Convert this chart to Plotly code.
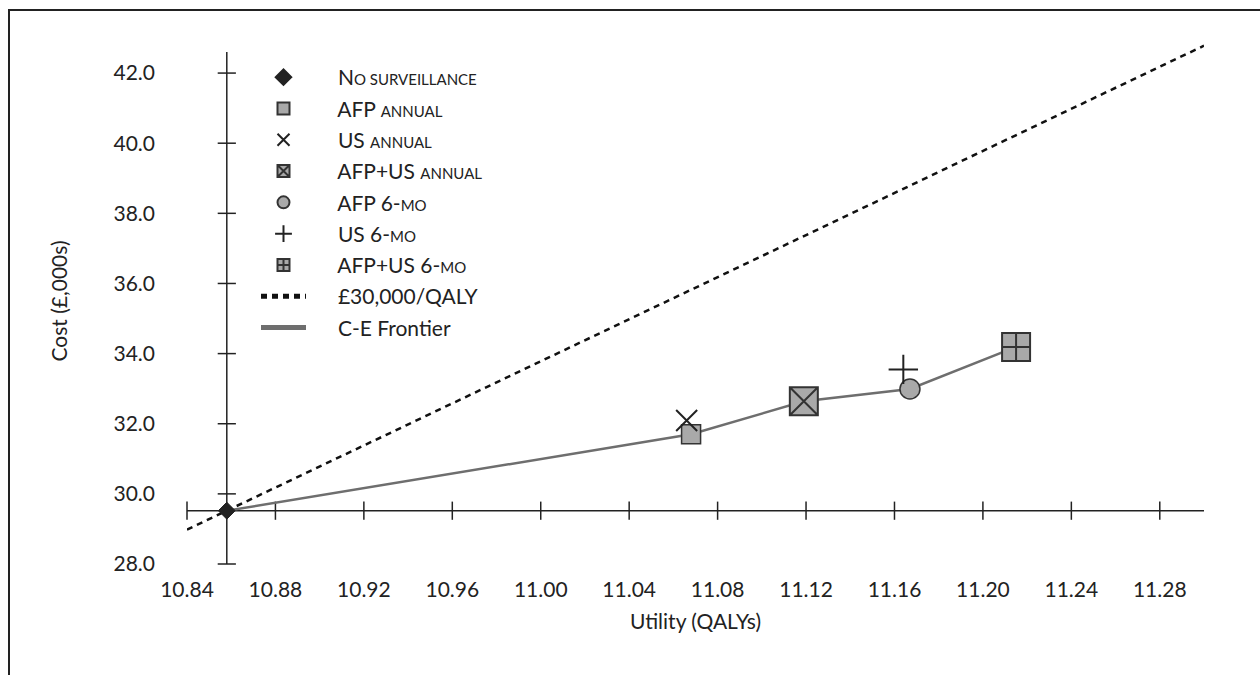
import numpy as np
import plotly.graph_objects as go

# Strategy outcomes: utility (QALYs) and cost (£,000s)
strategies = ["No surveillance", "AFP annual", "US annual", "AFP+US annual",
              "AFP 6-mo", "US 6-mo", "AFP+US 6-mo"]
SC = "<span style='font-size:15px'>{}</span>"  # small-caps style lettering
PAD = "&nbsp;" * 5
legend_labels = [
    PAD + "N" + SC.format("O SURVEILLANCE"),
    PAD + "AFP " + SC.format("ANNUAL"),
    PAD + "US " + SC.format("ANNUAL"),
    PAD + "AFP+US " + SC.format("ANNUAL"),
    PAD + "AFP 6-" + SC.format("MO"),
    PAD + "US 6-" + SC.format("MO"),
    PAD + "AFP+US 6-" + SC.format("MO"),
]
utility = [10.858, 11.068, 11.066, 11.119, 11.167, 11.164, 11.215]
cost = [29.52, 31.70, 32.09, 32.64, 32.99, 33.55, 34.19]

# Strategies on the cost-effectiveness frontier (indices into the lists above)
frontier_idx = [0, 1, 3, 4, 6]

# Willingness-to-pay threshold (£,000 per QALY)
wtp = 30.0

# Axis ticks
x_ticks = [10.84, 10.88, 10.92, 10.96, 11.00, 11.04, 11.08, 11.12, 11.16, 11.20, 11.24, 11.28]
y_ticks = [28.0, 30.0, 32.0, 34.0, 36.0, 38.0, 40.0, 42.0]
x_axis_extent = [10.84, 11.30]
y_axis_extent = [28.0, 42.6]

INK = "#222222"
GREY_FILL = "#a9a9a9"
FONT = "Lato"
FS = 21

fig = go.Figure()

# Crossing axes drawn through the reference strategy (No surveillance)
x0, y0 = utility[0], cost[0]
fig.add_trace(go.Scatter(x=x_axis_extent, y=[y0, y0], mode="lines",
                         line=dict(color=INK, width=1.5), showlegend=False,
                         hoverinfo="skip"))
fig.add_trace(go.Scatter(x=[x0, x0], y=y_axis_extent, mode="lines",
                         line=dict(color=INK, width=1.5), showlegend=False,
                         hoverinfo="skip"))
fig.add_trace(go.Scatter(x=x_ticks, y=[y0] * len(x_ticks), mode="markers",
                         marker=dict(symbol="line-ns", size=13,
                                     line=dict(color=INK, width=1.5)),
                         showlegend=False, hoverinfo="skip", cliponaxis=False))
fig.add_trace(go.Scatter(x=[x0] * len(y_ticks), y=y_ticks, mode="markers",
                         marker=dict(symbol="line-ew", size=13,
                                     line=dict(color=INK, width=1.5)),
                         showlegend=False, hoverinfo="skip", cliponaxis=False))

# Threshold line through the reference strategy
wtp_x = np.array(x_axis_extent)
wtp_y = y0 + wtp * (wtp_x - x0)
# Frontier line
fr_x = [utility[i] for i in frontier_idx]
fr_y = [cost[i] for i in frontier_idx]

marker_styles = [
    dict(symbol="diamond", size=13, color=INK, line=dict(color=INK, width=1)),
    dict(symbol="square", size=19, color=GREY_FILL, line=dict(color="#333333", width=1.5)),
    dict(symbol="x-thin", size=21, color=INK, line=dict(color=INK, width=2)),
    dict(symbol="square-x", size=28, color=GREY_FILL, line=dict(color="#333333", width=2)),
    dict(symbol="circle", size=20, color=GREY_FILL, line=dict(color="#333333", width=1.5)),
    dict(symbol="cross-thin", size=21, color=INK, line=dict(color=INK, width=2)),
    dict(symbol="square-cross", size=28, color=GREY_FILL, line=dict(color="#333333", width=2)),
]

# Lines first so that markers sit on top
line_traces = [
    go.Scatter(x=wtp_x, y=wtp_y, mode="lines", name=PAD + "£30,000/QALY",
               line=dict(color="#111111", width=2.5, dash="6px,5px"),
               legendgroup="wtp", legendrank=8),
    go.Scatter(x=fr_x, y=fr_y, mode="lines", name=PAD + "C-E Frontier",
               line=dict(color="#6e6e6e", width=2.5),
               legendgroup="frontier", legendrank=9),
]
for t in line_traces:
    fig.add_trace(t)

for i, name in enumerate(strategies):
    fig.add_trace(go.Scatter(x=[utility[i]], y=[cost[i]], mode="markers",
                             name=legend_labels[i], marker=marker_styles[i],
                             legendgroup=name, legendrank=i + 1,
                             cliponaxis=False))

plot_l, plot_r, plot_t, plot_b = 187, 56, 38, 111
W, H = 1260, 675
pw, ph = W - plot_l - plot_r, H - plot_t - plot_b


def px_to_paper_x(px):
    return (px - plot_l) / pw


def px_to_paper_y(py):
    return (H - plot_b - py) / ph


fig.update_layout(
    width=W, height=H,
    margin=dict(l=plot_l, r=plot_r, t=plot_t, b=plot_b, pad=0),
    paper_bgcolor="white", plot_bgcolor="white",
    font=dict(family=FONT, size=FS, color=INK),
    xaxis=dict(range=x_axis_extent, tickvals=x_ticks,
               ticktext=[f"{v:.2f}" for v in x_ticks],
               showline=False, showgrid=False, zeroline=False, ticks="",
               ticklabelstandoff=11,
               title=dict(text="Utility (QALYs)", standoff=14,
                          font=dict(size=FS))),
    yaxis=dict(range=[28.0, 43.0], tickvals=y_ticks,
               ticktext=[f"{v:.1f}" for v in y_ticks],
               showline=False, showgrid=False, zeroline=False, ticks="",
               ticklabelstandoff=31,
               title=dict(text="Cost (£,000s)", standoff=40,
                          font=dict(size=FS))),
    legend=dict(x=px_to_paper_x(256), y=px_to_paper_y(57),
                xanchor="left", yanchor="top",
                bgcolor="rgba(0,0,0,0)", font=dict(size=FS, color=INK),
                itemsizing="constant", tracegroupgap=1,
                traceorder="grouped", itemwidth=45),
    shapes=[dict(type="rect", xref="paper", yref="paper",
                 x0=px_to_paper_x(9), x1=px_to_paper_x(1300),
                 y0=px_to_paper_y(700), y1=px_to_paper_y(10),
                 line=dict(color=INK, width=2), fillcolor="rgba(0,0,0,0)",
                 layer="below")],
    showlegend=True,
)

fig.write_html("out.html")
